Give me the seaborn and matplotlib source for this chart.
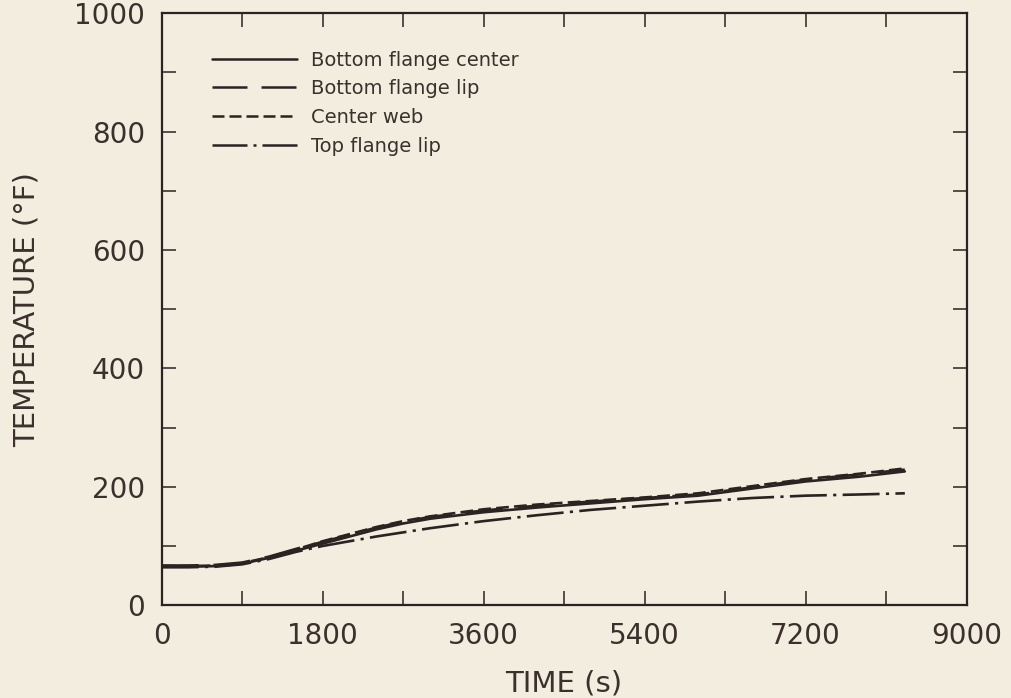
import numpy as np
import pandas as pd
import matplotlib
matplotlib.use("Agg")
import matplotlib.pyplot as plt
import seaborn as sns
from matplotlib.ticker import MultipleLocator

# time (s)
times = [0, 300, 600, 900, 1200, 1500, 1800, 2100, 2400, 2700, 3000,
         3600, 4200, 4800, 5400, 6000, 6600, 7200, 7800, 8310]

# temperatures (F)
bottom_center = [65, 65, 66, 70, 80, 92, 104, 116, 128, 138, 146,
                 157, 165, 172, 179, 185, 197, 209, 217, 226]
bottom_lip = [67, 67, 68, 72, 82, 95, 107, 119, 131, 141, 149,
              160, 168, 175, 181, 187, 199, 212, 221, 229]
center_web = [66, 66, 67, 71, 81, 94, 108, 120, 132, 142, 150,
              162, 170, 176, 182, 189, 201, 213, 222, 231]
top_lip = [64, 64, 65, 69, 78, 90, 100, 108, 116, 123, 130,
           142, 152, 161, 168, 175, 181, 185, 187, 189]

labels = ["Bottom flange center", "Bottom flange lip", "Center web", "Top flange lip"]

df = pd.DataFrame({
    "time": times * 4,
    "temp": bottom_center + bottom_lip + center_web + top_lip,
    "location": [lab for lab in labels for _ in times],
})

bg = "#f2eddf"
ink = "#2b2221"
txt = "#3b302c"

sns.set_theme(style="ticks")
plt.rcParams["font.family"] = ["DejaVu Sans"]

fig = plt.figure(figsize=(10.11, 6.98), dpi=100, facecolor=bg)
ax = fig.add_axes([0.160, 0.133, 0.796, 0.848])
ax.set_facecolor(bg)

# dash patterns in linewidth units
dashes = {
    "Bottom flange center": "",
    "Bottom flange lip": (14, 5.6),
    "Center web": (4.8, 2),
    "Top flange lip": (14, 2.4, 1.2, 2.4),
}
sns.lineplot(data=df, x="time", y="temp", style="location", style_order=labels,
             dashes=dashes, color=ink, linewidth=1.9, ax=ax, legend=True)

ax.set_xlim(0, 9000)
ax.set_ylim(0, 1000)
ax.xaxis.set_major_locator(MultipleLocator(1800))
ax.xaxis.set_minor_locator(MultipleLocator(900))
ax.yaxis.set_major_locator(MultipleLocator(200))
ax.yaxis.set_minor_locator(MultipleLocator(100))
ax.tick_params(which="both", direction="in", top=True, right=True,
               length=10, width=1.1, color=ink)
ax.tick_params(axis="both", which="major", labelsize=20, pad=12, labelcolor=txt)
for s in ax.spines.values():
    s.set_linewidth(1.6)
    s.set_color(ink)

ax.set_xlabel("TIME (s)", fontsize=21, color=txt, labelpad=14)
ax.set_ylabel("TEMPERATURE (\u00b0F)", fontsize=21, color=txt, labelpad=24)

handles, labs = ax.get_legend_handles_labels()
for h in handles:
    h.set_linewidth(1.8)
ax.legend(handles, labs, loc="upper left", bbox_to_anchor=(0.062, 0.937),
          frameon=False, fontsize=14, handlelength=4.4, handletextpad=0.7,
          labelspacing=0.5, borderpad=0, borderaxespad=0, labelcolor=txt)

fig.savefig("out.png", dpi=100, facecolor=bg)
